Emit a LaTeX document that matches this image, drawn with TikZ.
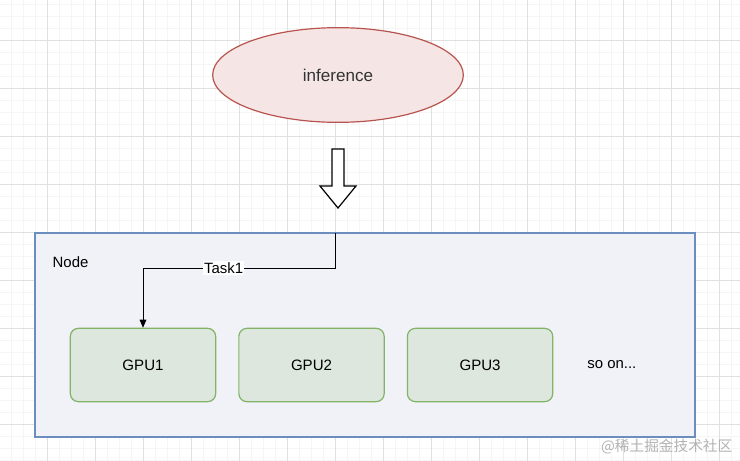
\documentclass[tikz,border=0pt]{standalone}
\usepackage{fontspec}
\setmainfont{Liberation Sans}
\newfontfamily\cjkfont{Noto Sans CJK SC}
\usetikzlibrary{positioning, arrows.meta, shapes.geometric}
\definecolor{redline}{HTML}{B85450}
\definecolor{redfill}{HTML}{F5E6E5}
\definecolor{blueline}{HTML}{6C8EBF}
\definecolor{bluefill}{HTML}{F0F2F8}
\definecolor{greenline}{HTML}{82B366}
\definecolor{greenfill}{HTML}{DDE7DD}
\definecolor{textgray}{HTML}{333333}

\begin{document}
\begin{tikzpicture}[
  x=0.75pt, y=-0.75pt,
  node distance=16.5pt,
  job/.style={ellipse, draw=redline, fill=redfill, line width=0.9pt,
              minimum width=188pt, minimum height=71pt,
              font=\fontsize{12.8}{14}\selectfont, text=textgray},
  gpu/.style={draw=greenline, fill=greenfill, rounded corners=6pt, line width=0.9pt,
              minimum width=109pt, minimum height=55pt,
              font=\fontsize{11.3}{13}\selectfont},
  host/.style={draw=blueline, fill=bluefill, line width=0.8pt,
               minimum width=495pt, minimum height=153pt},
  lbl/.style={font=\fontsize{11.2}{13}\selectfont},
  arr/.style={-{Triangle[length=6pt, width=5pt]}, line width=0.6pt}
]
\useasboundingbox (0,0) rectangle (740,461);
% background grid
\foreach \x in {11,23,...,740} \draw[black!4, line width=0.4pt] (\x,0) -- (\x,461);
\foreach \y in {4,16,...,461} \draw[black!4, line width=0.4pt] (0,\y) -- (740,\y);
\foreach \x in {47,95,...,740} \draw[black!12, line width=0.5pt] (\x,0) -- (\x,461);
\foreach \y in {40,88,...,461} \draw[black!12, line width=0.5pt] (0,\y) -- (740,\y);

\node[job] (infer) at (338,75) {inference};

% hollow down arrow
\draw[line width=0.9pt, line join=miter, fill=white]
  (332,149) -- (344,149) -- (344,186) -- (356,186) -- (338,208)
  -- (320,186) -- (332,186) -- cycle;

\node[host] (host) at (365,335) {};
\node[lbl, anchor=west] (hostlbl) at (48,262) {Node};

\node[gpu] (gpu1) at (143,365) {GPU1};
\node[gpu, right=of gpu1] (gpu2) {GPU2};
\node[gpu, right=of gpu2] (gpu3) {GPU3};
\node[lbl, right=22pt of gpu3] (more) {so on...};

\coordinate (start) at (335,233);
\draw[arr] (start) |- (143,268) node[pos=0.79, fill=white, inner sep=1pt, lbl] {Task1}
  -- (gpu1.north);

\node[text=black!30, font=\cjkfont\fontsize{11}{12}\selectfont, anchor=east] (mark) at (737,447) {@稀土掘金技术社区};
\end{tikzpicture}
\end{document}
